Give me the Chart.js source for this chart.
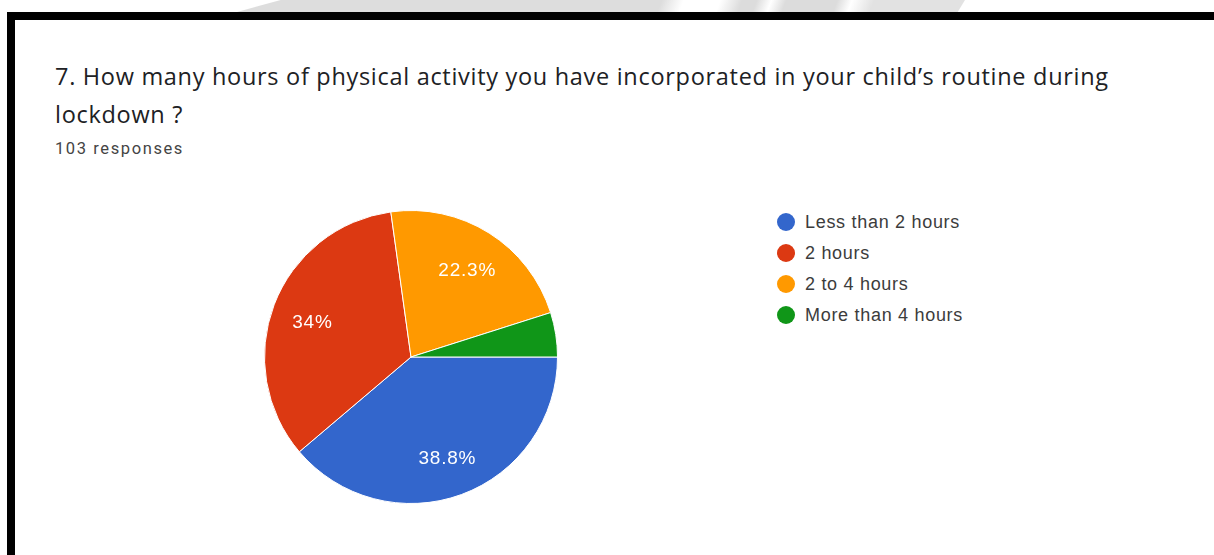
<!DOCTYPE html>
<html>
<head>
<meta charset="utf-8">
<script src="https://cdn.jsdelivr.net/npm/chart.js@4/dist/chart.umd.min.js"></script>
<style>
  html, body { margin: 0; padding: 0; background: #fff; }
  body { width: 1214px; height: 555px; position: relative; overflow: hidden; }
  .mark {
    position: absolute; left: 237px; top: 0; width: 728px; height: 12px;
    background: linear-gradient(110deg,
      #dddddd 0%, #dddddd 58%, #fff 61%, #fff 66%, #dcdcdc 69%,
      #dcdcdc 71%, #fff 73%, #dcdcdc 75%, #dcdcdc 82%, #fff 84%,
      #e2e2e2 87%, #e2e2e2 100%);
    clip-path: polygon(0 100%, 6% 0, 100% 0, 99% 100%);
  }
  .frame {
    position: absolute; left: 7px; top: 12px; width: 1230px; height: 560px;
    border-top: 8px solid #000; border-left: 8px solid #000; box-sizing: border-box;
  }
  .title {
    position: absolute; left: 55px; top: 57px; width: 1110px;
    font-family: "Open Sans", sans-serif; font-size: 23.5px; line-height: 38px;
    letter-spacing: 0.7px; color: #202124; margin: 0; font-weight: 400;
  }
  .sub {
    position: absolute; left: 55px; top: 139px;
    font-family: Roboto, sans-serif; font-size: 16.5px; letter-spacing: 1.6px; color: #444;
  }
  .pie { position: absolute; left: 264px; top: 210px; width: 294px; height: 294px; }
  .legend {
    position: absolute; left: 777px; top: 206px; margin: 0; padding: 0; list-style: none;
    font-family: "Liberation Sans", Arial, sans-serif; font-size: 18px; letter-spacing: 0.7px; color: #3c3c3c;
  }
  .legend li { height: 31px; line-height: 30px; display: flex; align-items: center; }
  .legend .dot { width: 18px; height: 18px; border-radius: 50%; margin-right: 10px; }
</style>
</head>
<body>
<div class="mark"></div>
<div class="frame"></div>
<p class="title">7. How many hours of physical activity you have incorporated in your child’s routine during lockdown ?</p>
<div class="sub" id="sub"></div>
<div class="pie"><canvas id="pie"></canvas></div>
<ul class="legend" id="legend"></ul>
<script>
const responses = 103;
const categories = ["Less than 2 hours", "2 hours", "2 to 4 hours", "More than 4 hours"];
const shares = [38.8, 34.0, 22.3, 4.9];
const colors = ["#3366cc", "#dc3912", "#ff9900", "#109618"];

document.getElementById("sub").textContent = responses + " responses";

const legend = document.getElementById("legend");
categories.forEach((name, i) => {
  const li = document.createElement("li");
  const dot = document.createElement("span");
  dot.className = "dot";
  dot.style.background = colors[i];
  li.appendChild(dot);
  li.appendChild(document.createTextNode(name));
  legend.appendChild(li);
});

// Percent labels inside slices large enough to hold them
const sliceLabels = {
  id: "sliceLabels",
  afterDatasetsDraw(chart) {
    const ctx = chart.ctx;
    const meta = chart.getDatasetMeta(0);
    const values = chart.data.datasets[0].data;
    ctx.save();
    ctx.fillStyle = "#ffffff";
    ctx.font = '19px "Liberation Sans", Arial, sans-serif';
    ctx.letterSpacing = "0.8px";
    ctx.textAlign = "center";
    ctx.textBaseline = "middle";
    meta.data.forEach((arc, i) => {
      const v = values[i];
      if (v < 5) return;
      const { x, y, startAngle, endAngle, outerRadius } = arc.getProps(
        ["x", "y", "startAngle", "endAngle", "outerRadius"], true);
      const mid = (startAngle + endAngle) / 2;
      const r = outerRadius * 0.72;
      ctx.fillText(String(+v.toFixed(1)) + "%", x + Math.cos(mid) * r, y + Math.sin(mid) * r + 3);
    });
    ctx.restore();
  }
};

new Chart(document.getElementById("pie"), {
  type: "pie",
  data: {
    labels: categories,
    datasets: [{
      data: shares,
      backgroundColor: colors,
      borderColor: "#ffffff",
      borderWidth: 1
    }]
  },
  options: {
    responsive: true,
    maintainAspectRatio: false,
    animation: false,
    rotation: 90,
    layout: { padding: 0 },
    plugins: { legend: { display: false }, tooltip: { enabled: false } }
  },
  plugins: [sliceLabels]
});
</script>
</body>
</html>
